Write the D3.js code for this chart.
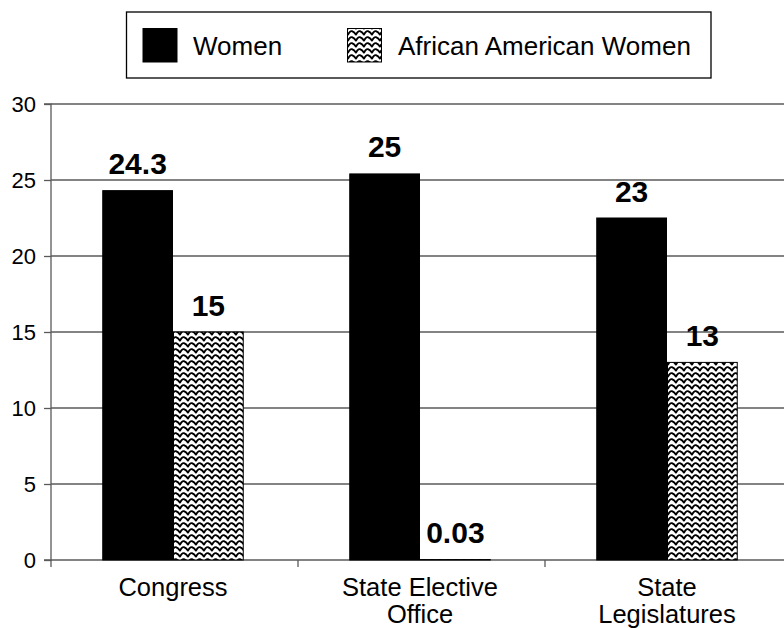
<!DOCTYPE html>
<html>
<head>
<meta charset="utf-8">
<script src="https://cdn.jsdelivr.net/npm/d3@7"></script>
<style>
  html, body { margin: 0; padding: 0; background: #fff; }
  svg { display: block; font-family: "Liberation Sans", Arial, sans-serif; }
</style>
</head>
<body>
<svg id="chart" width="784" height="628"></svg>
<script>
const categories = [["Congress"], ["State Elective", "Office"], ["State", "Legislatures"]];
const categoryKeys = ["Congress", "State Elective Office", "State Legislatures"];
const seriesNames = ["Women", "African American Women"];
const womenValues = [24.3, 25.4, 22.5];
const womenLabels = ["24.3", "25", "23"];
const aaWomenValues = [15, 0.03, 13];
const aaWomenLabels = ["15", "0.03", "13"];
const yTicks = [0, 5, 10, 15, 20, 25, 30];

const svg = d3.select("#chart");
const defs = svg.append("defs");
const pat = defs.append("pattern")
  .attr("id", "zigzag").attr("patternUnits", "userSpaceOnUse")
  .attr("width", 8).attr("height", 6);
pat.append("rect").attr("width", 8).attr("height", 6).attr("fill", "#fff");
pat.append("path")
  .attr("d", "M-4,4.6 Q-2,0.6 0,1.2 Q2,1.8 4,4.6 Q6,0.6 8,1.2 Q10,1.8 12,4.6")
  .attr("fill", "none").attr("stroke", "#000").attr("stroke-width", 1.9)
  .attr("stroke-linejoin", "round");

const plotLeft = 51, plotRight = 784, plotTop = 104, plotBottom = 560;
const x = d3.scaleBand().domain(categoryKeys).range([51, 792]).paddingInner(0).paddingOuter(0);
const y = d3.scaleLinear().domain([0, 30]).range([plotBottom, plotTop]);
const xs = d3.scaleBand().domain(seriesNames).range([0, 141.5]).padding(0);
const groupOffset = (x.bandwidth() - xs.range()[1]) / 2 - 1.5;

const gridColor = "#5a5a5a";

// gridlines
svg.append("g").selectAll("line").data(yTicks.filter(d => d > 0)).join("line")
  .attr("x1", plotLeft).attr("x2", plotRight)
  .attr("y1", d => y(d)).attr("y2", d => y(d))
  .attr("stroke", gridColor).attr("stroke-width", 1.3);

// y axis
const yAxis = d3.axisLeft(y).tickValues(yTicks).tickSize(7).tickPadding(8).tickFormat(d3.format("d"));
const gy = svg.append("g").attr("transform", `translate(${plotLeft},0)`).call(yAxis);
gy.attr("font-family", null).attr("font-size", null);
gy.select(".domain").attr("stroke", gridColor).attr("stroke-width", 1.3).attr("d", `M-7,${plotTop}H0V${plotBottom}H-7`);
gy.selectAll(".tick line").attr("stroke", gridColor).attr("stroke-width", 1.3);
gy.selectAll(".tick text").attr("font-size", 22).attr("fill", "#000").attr("dy", "0.35em");

// x axis
svg.append("line").attr("x1", plotLeft).attr("x2", plotRight)
  .attr("y1", plotBottom).attr("y2", plotBottom)
  .attr("stroke", gridColor).attr("stroke-width", 1.3);
svg.append("g").selectAll("line").data(categoryKeys).join("line")
  .attr("x1", d => x(d)).attr("x2", d => x(d))
  .attr("y1", plotBottom).attr("y2", plotBottom + 7)
  .attr("stroke", gridColor).attr("stroke-width", 1.3);

// category labels
svg.append("g").selectAll("text").data(categories).join("text")
  .attr("x", (d, i) => x(categoryKeys[i]) + x.bandwidth() / 2 - 1.5)
  .attr("y", 596)
  .attr("text-anchor", "middle").attr("font-size", 25.5).attr("fill", "#000")
  .each(function(lines) {
    const t = d3.select(this);
    lines.forEach((ln, j) => {
      t.append("tspan").attr("x", t.attr("x")).attr("dy", j === 0 ? 0 : 27).text(ln);
    });
  });

// bars
const series = [
  { name: seriesNames[0], values: womenValues, labels: womenLabels, fill: "#000" },
  { name: seriesNames[1], values: aaWomenValues, labels: aaWomenLabels, fill: "url(#zigzag)" }
];
series.forEach(s => {
  const g = svg.append("g");
  g.selectAll("rect").data(s.values).join("rect")
    .attr("x", (d, i) => x(categoryKeys[i]) + groupOffset + xs(s.name) + 0.5)
    .attr("width", xs.bandwidth() - 1)
    .attr("y", d => y(d))
    .attr("height", d => y(0) - y(d))
    .attr("fill", s.fill)
    .attr("stroke", "#000").attr("stroke-width", 1);
  g.selectAll("text").data(s.labels).join("text")
    .attr("x", (d, i) => x(categoryKeys[i]) + groupOffset + xs(s.name) + xs.bandwidth() / 2)
    .attr("y", (d, i) => y(s.values[i]) - 16.5)
    .attr("text-anchor", "middle")
    .attr("font-size", 30).attr("font-weight", "bold").attr("fill", "#000")
    .text(d => d);
});

// legend
const lg = svg.append("g");
lg.append("rect").attr("x", 126.5).attr("y", 12).attr("width", 584.5).attr("height", 66)
  .attr("fill", "#fff").attr("stroke", "#000").attr("stroke-width", 1.3);
const legendItems = [
  { name: seriesNames[0], fill: "#000", sx: 143, tx: 193 },
  { name: seriesNames[1], fill: "url(#zigzag)", sx: 347.5, tx: 398 }
];
legendItems.forEach(it => {
  lg.append("rect").attr("x", it.sx).attr("y", 28.5).attr("width", 34).attr("height", 33.5)
    .attr("fill", it.fill).attr("stroke", "#000").attr("stroke-width", 1);
  lg.append("text").attr("x", it.tx).attr("y", 55).attr("font-size", 26).attr("fill", "#000").text(it.name);
});
</script>
</body>
</html>
